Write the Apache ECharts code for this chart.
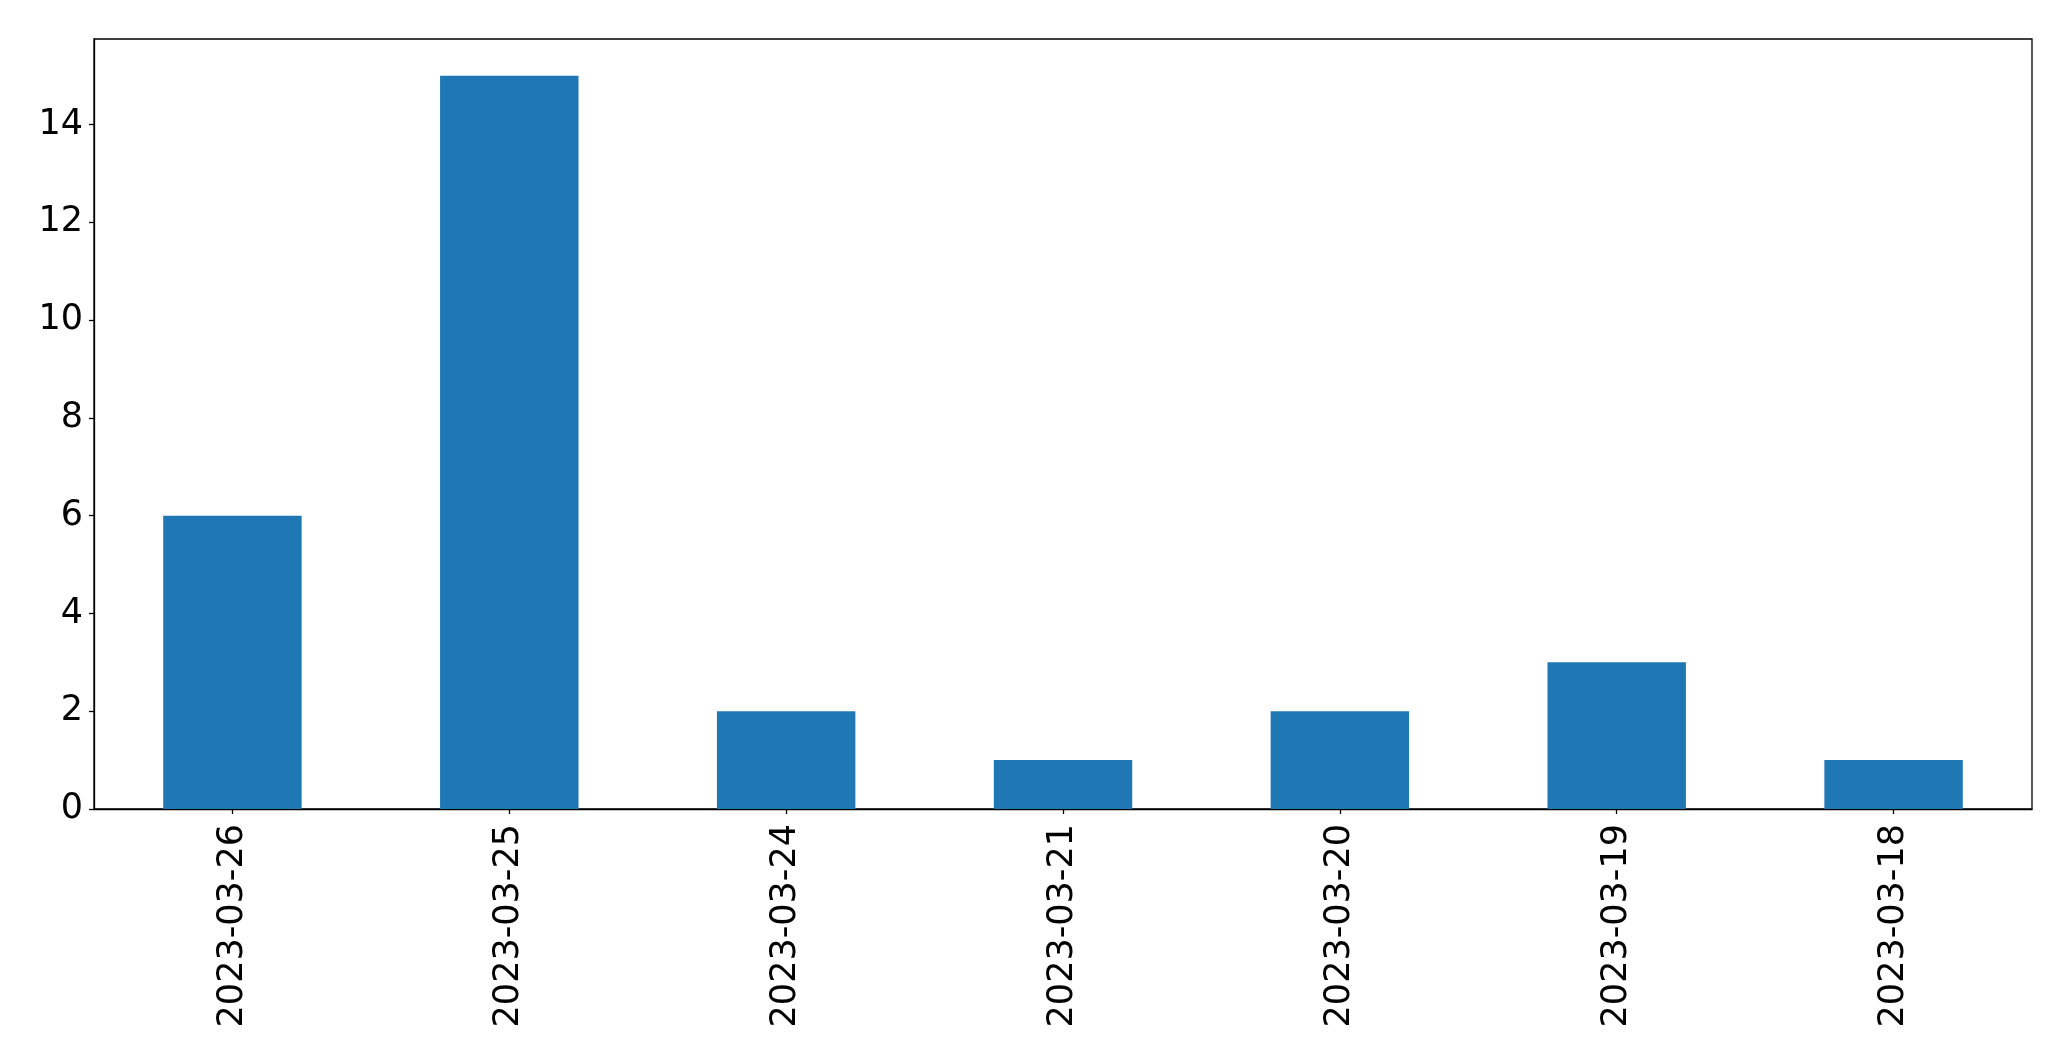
<!DOCTYPE html>
<html>
<head>
<meta charset="utf-8">
<script src="https://cdn.jsdelivr.net/npm/echarts@6/dist/echarts.min.js"></script>
<style>
html,body{margin:0;padding:0;background:#fff;}
#main{width:2071px;height:1061px;}
</style>
</head>
<body>
<div id="main"></div>
<script>
const categories = ['2023-03-26','2023-03-25','2023-03-24','2023-03-21','2023-03-20','2023-03-19','2023-03-18'];
const values = [6, 15, 2, 1, 2, 3, 1];
const yTicks = [0, 2, 4, 6, 8, 10, 12, 14];

const chart = echarts.init(document.getElementById('main'), null, {renderer: 'canvas'});
const font = 'DejaVu Sans';
chart.setOption({
  animation: false,
  backgroundColor: '#ffffff',
  grid: {
    left: 94, right: 39, top: 39, bottom: 252,
    show: true, borderColor: '#000', borderWidth: 1.3, backgroundColor: 'transparent',
    containLabel: false
  },
  xAxis: {
    type: 'category',
    data: categories,
    boundaryGap: true,
    axisLine: {show: true, lineStyle: {color: '#000', width: 1.3}},
    axisTick: {show: true, alignWithLabel: true, length: 5, lineStyle: {color: '#000', width: 1.3}},
    axisLabel: {rotate: 90, interval: 0, fontFamily: font, fontSize: 35, color: '#000', margin: 15},
    splitLine: {show: false}
  },
  yAxis: {
    type: 'value',
    min: 0, max: 15.75, interval: 2,
    axisLine: {show: true, lineStyle: {color: '#000', width: 1.3}},
    axisTick: {show: true, length: 5, customValues: yTicks, lineStyle: {color: '#000', width: 1.3}},
    axisLabel: {fontFamily: font, fontSize: 35, color: '#000', margin: 11, customValues: yTicks},
    splitLine: {show: false}
  },
  series: [{
    type: 'bar',
    data: values,
    barWidth: '50%',
    itemStyle: {color: '#1f77b4'}
  }]
});
</script>
</body>
</html>
